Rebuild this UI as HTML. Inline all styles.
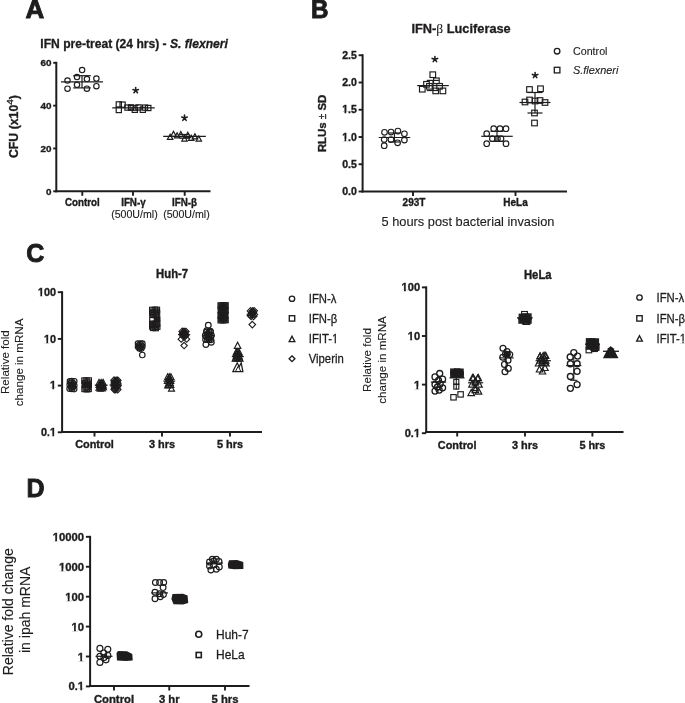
<!DOCTYPE html>
<html><head><meta charset="utf-8"><style>
html,body{margin:0;padding:0;background:#fff;}
svg{display:block;filter:blur(0.45px);}
text{font-family:"Liberation Sans", sans-serif;}
</style></head><body>
<svg width="685" height="703" viewBox="0 0 685 703">
<rect width="685" height="703" fill="#fff"/>
<g stroke="#1e1c1d" fill="none">
<text transform="translate(25.6 18.2) scale(0.985 1.0)" font-size="26.4" font-weight="bold" text-anchor="start" fill="#1e1c1d" stroke="#1e1c1d" stroke-width="0.9">A</text>
<text x="40.3" y="47.5" font-size="12.1" font-weight="bold" fill="#1e1c1d" stroke="#1e1c1d" stroke-width="0.3">IFN pre-treat (24 hrs) - <tspan font-style="italic">S. flexneri</tspan></text>
<line x1="56.30" y1="61.80" x2="56.30" y2="192.30" stroke-width="2.0"/>
<line x1="53.20" y1="191.30" x2="56.30" y2="191.30" stroke-width="1.9"/>
<text transform="translate(51.49999999999999 194.67392) scale(1.0 0.96)" font-size="9.9" font-weight="bold" text-anchor="end" fill="#1e1c1d" stroke="#1e1c1d" stroke-width="0.35">0</text>
<line x1="53.20" y1="148.47" x2="56.30" y2="148.47" stroke-width="1.9"/>
<text transform="translate(51.49999999999999 151.8405866666667) scale(1.0 0.96)" font-size="9.9" font-weight="bold" text-anchor="end" fill="#1e1c1d" stroke="#1e1c1d" stroke-width="0.35">20</text>
<line x1="53.20" y1="105.63" x2="56.30" y2="105.63" stroke-width="1.9"/>
<text transform="translate(51.49999999999999 109.00725333333335) scale(1.0 0.96)" font-size="9.9" font-weight="bold" text-anchor="end" fill="#1e1c1d" stroke="#1e1c1d" stroke-width="0.35">40</text>
<line x1="53.20" y1="62.80" x2="56.30" y2="62.80" stroke-width="1.9"/>
<text transform="translate(51.49999999999999 66.17392000000001) scale(1.0 0.96)" font-size="9.9" font-weight="bold" text-anchor="end" fill="#1e1c1d" stroke="#1e1c1d" stroke-width="0.35">60</text>
<line x1="55.30" y1="191.30" x2="210.50" y2="191.30" stroke-width="2.0"/>
<line x1="82.30" y1="191.30" x2="82.30" y2="195.80" stroke-width="1.9"/>
<line x1="133.00" y1="191.30" x2="133.00" y2="195.80" stroke-width="1.9"/>
<line x1="184.70" y1="191.30" x2="184.70" y2="195.80" stroke-width="1.9"/>
<text transform="translate(82.3 205.6) scale(1.0 1.06)" font-size="9.8" font-weight="bold" text-anchor="middle" fill="#1e1c1d" stroke="#1e1c1d" stroke-width="0.35">Control</text>
<text transform="translate(133.4 205.6) scale(1.0 1.06)" font-size="9.8" font-weight="bold" text-anchor="middle" fill="#1e1c1d" stroke="#1e1c1d" stroke-width="0.35">IFN-γ</text>
<text transform="translate(184.5 205.6) scale(1.0 1.06)" font-size="9.8" font-weight="bold" text-anchor="middle" fill="#1e1c1d" stroke="#1e1c1d" stroke-width="0.35">IFN-β</text>
<text transform="translate(134.4 217.6)" font-size="10.6" text-anchor="middle" fill="#1e1c1d" stroke="#1e1c1d" stroke-width="0.12">(500U/ml)</text>
<text transform="translate(186.4 217.6)" font-size="10.6" text-anchor="middle" fill="#1e1c1d" stroke="#1e1c1d" stroke-width="0.12">(500U/ml)</text>
<text transform="translate(17.6 126.6) rotate(-90)" font-size="12.3" font-weight="bold" text-anchor="middle" fill="#1e1c1d" stroke="#1e1c1d" stroke-width="0.35">CFU (x10<tspan font-size="9.8" font-weight="normal" stroke="#1e1c1d" stroke-width="0.35" dy="-4.6">4</tspan><tspan dy="4.6">)</tspan></text>
<line x1="61.00" y1="81.80" x2="103.00" y2="81.80" stroke-width="1.2"/>
<line x1="82.00" y1="75.70" x2="82.00" y2="87.90" stroke-width="1.2"/>
<line x1="73.20" y1="75.70" x2="90.80" y2="75.70" stroke-width="1.2"/>
<line x1="73.20" y1="87.90" x2="90.80" y2="87.90" stroke-width="1.2"/>
<circle cx="82.10" cy="70.00" r="2.7" stroke-width="1.15"/>
<circle cx="67.50" cy="80.50" r="2.7" stroke-width="1.15"/>
<circle cx="67.50" cy="88.70" r="2.7" stroke-width="1.15"/>
<circle cx="77.00" cy="77.00" r="2.7" stroke-width="1.15"/>
<circle cx="77.00" cy="84.80" r="2.7" stroke-width="1.15"/>
<circle cx="86.90" cy="79.00" r="2.7" stroke-width="1.15"/>
<circle cx="86.90" cy="88.70" r="2.7" stroke-width="1.15"/>
<circle cx="96.40" cy="78.50" r="2.7" stroke-width="1.15"/>
<circle cx="96.40" cy="86.20" r="2.7" stroke-width="1.15"/>
<line x1="112.25" y1="107.90" x2="154.75" y2="107.90" stroke-width="1.2"/>
<line x1="133.50" y1="105.50" x2="133.50" y2="110.20" stroke-width="1.2"/>
<line x1="128.50" y1="105.50" x2="138.50" y2="105.50" stroke-width="1.2"/>
<line x1="128.50" y1="110.20" x2="138.50" y2="110.20" stroke-width="1.2"/>
<rect x="116.20" y="101.80" width="5.2" height="5.2" stroke-width="1.2"/>
<rect x="116.20" y="107.40" width="5.2" height="5.2" stroke-width="1.2"/>
<rect x="120.00" y="102.00" width="5.2" height="5.2" stroke-width="1.2"/>
<rect x="124.90" y="105.00" width="5.2" height="5.2" stroke-width="1.2"/>
<rect x="128.40" y="104.80" width="5.2" height="5.2" stroke-width="1.2"/>
<rect x="132.20" y="107.20" width="5.2" height="5.2" stroke-width="1.2"/>
<rect x="135.90" y="104.80" width="5.2" height="5.2" stroke-width="1.2"/>
<rect x="140.20" y="107.20" width="5.2" height="5.2" stroke-width="1.2"/>
<rect x="145.70" y="105.40" width="5.2" height="5.2" stroke-width="1.2"/>
<rect x="142.40" y="105.00" width="5.2" height="5.2" stroke-width="1.2"/>
<path d="M135.70 90.40L135.70 87.50M135.70 90.40L138.46 89.50M135.70 90.40L137.40 92.75M135.70 90.40L134.00 92.75M135.70 90.40L132.94 89.50" stroke-width="1.55" stroke-linecap="round"/>
<line x1="163.15" y1="136.30" x2="205.85" y2="136.30" stroke-width="1.2"/>
<line x1="184.50" y1="134.50" x2="184.50" y2="138.20" stroke-width="1.2"/>
<line x1="179.50" y1="134.50" x2="189.50" y2="134.50" stroke-width="1.2"/>
<line x1="179.50" y1="138.20" x2="189.50" y2="138.20" stroke-width="1.2"/>
<path d="M170.10 134.24L172.80 139.37L167.40 139.37Z" stroke-width="1.2" stroke-linejoin="miter"/>
<path d="M173.50 131.34L176.20 136.47L170.80 136.47Z" stroke-width="1.2" stroke-linejoin="miter"/>
<path d="M177.10 132.84L179.80 137.97L174.40 137.97Z" stroke-width="1.2" stroke-linejoin="miter"/>
<path d="M180.80 131.64L183.50 136.77L178.10 136.77Z" stroke-width="1.2" stroke-linejoin="miter"/>
<path d="M184.50 135.94L187.20 141.06L181.80 141.06Z" stroke-width="1.2" stroke-linejoin="miter"/>
<path d="M187.80 132.34L190.50 137.47L185.10 137.47Z" stroke-width="1.2" stroke-linejoin="miter"/>
<path d="M191.20 135.24L193.90 140.37L188.50 140.37Z" stroke-width="1.2" stroke-linejoin="miter"/>
<path d="M194.90 133.84L197.60 138.97L192.20 138.97Z" stroke-width="1.2" stroke-linejoin="miter"/>
<path d="M198.80 135.94L201.50 141.06L196.10 141.06Z" stroke-width="1.2" stroke-linejoin="miter"/>
<path d="M184.50 118.00L184.50 115.10M184.50 118.00L187.26 117.10M184.50 118.00L186.20 120.35M184.50 118.00L182.80 120.35M184.50 118.00L181.74 117.10" stroke-width="1.55" stroke-linecap="round"/>
<text transform="translate(311.0 18.0) scale(0.92 1.0)" font-size="26.4" font-weight="bold" text-anchor="start" fill="#1e1c1d" stroke="#1e1c1d" stroke-width="0.9">B</text>
<text x="411.4" y="32.9" font-size="12.8" font-weight="bold" fill="#1e1c1d" stroke="#1e1c1d" stroke-width="0.3">IFN-<tspan font-family="Liberation Serif" font-weight="normal" font-size="13.5" stroke-width="0.1">β</tspan> Luciferase</text>
<line x1="362.60" y1="54.25" x2="362.60" y2="192.50" stroke-width="2.0"/>
<line x1="358.60" y1="191.50" x2="362.60" y2="191.50" stroke-width="1.9"/>
<text transform="translate(356.8 195.2275)" font-size="10.5" font-weight="bold" text-anchor="end" fill="#1e1c1d" stroke="#1e1c1d" stroke-width="0.35">0.0</text>
<line x1="358.60" y1="164.25" x2="362.60" y2="164.25" stroke-width="1.9"/>
<text transform="translate(356.8 167.9775)" font-size="10.5" font-weight="bold" text-anchor="end" fill="#1e1c1d" stroke="#1e1c1d" stroke-width="0.35">0.5</text>
<line x1="358.60" y1="137.00" x2="362.60" y2="137.00" stroke-width="1.9"/>
<text transform="translate(356.8 140.7275)" font-size="10.5" font-weight="bold" text-anchor="end" fill="#1e1c1d" stroke="#1e1c1d" stroke-width="0.35">1.0</text>
<rect x="341.70" y="138.76" width="2.80" height="2.76" fill="#fff" stroke="none"/>
<rect x="346.24" y="138.76" width="1.85" height="2.76" fill="#fff" stroke="none"/>
<line x1="358.60" y1="109.75" x2="362.60" y2="109.75" stroke-width="1.9"/>
<text transform="translate(356.8 113.4775)" font-size="10.5" font-weight="bold" text-anchor="end" fill="#1e1c1d" stroke="#1e1c1d" stroke-width="0.35">1.5</text>
<rect x="341.70" y="111.51" width="2.80" height="2.76" fill="#fff" stroke="none"/>
<rect x="346.24" y="111.51" width="1.85" height="2.76" fill="#fff" stroke="none"/>
<line x1="358.60" y1="82.50" x2="362.60" y2="82.50" stroke-width="1.9"/>
<text transform="translate(356.8 86.2275)" font-size="10.5" font-weight="bold" text-anchor="end" fill="#1e1c1d" stroke="#1e1c1d" stroke-width="0.35">2.0</text>
<line x1="358.60" y1="55.25" x2="362.60" y2="55.25" stroke-width="1.9"/>
<text transform="translate(356.8 58.9775)" font-size="10.5" font-weight="bold" text-anchor="end" fill="#1e1c1d" stroke="#1e1c1d" stroke-width="0.35">2.5</text>
<line x1="361.60" y1="191.50" x2="567.00" y2="191.50" stroke-width="2.0"/>
<line x1="413.00" y1="191.50" x2="413.00" y2="196.00" stroke-width="1.9"/>
<line x1="515.50" y1="191.50" x2="515.50" y2="196.00" stroke-width="1.9"/>
<text transform="translate(414 206) scale(1.0 1.05)" font-size="10" font-weight="bold" text-anchor="middle" fill="#1e1c1d" stroke="#1e1c1d" stroke-width="0.35">293T</text>
<text transform="translate(515.5 206) scale(1.0 1.05)" font-size="10" font-weight="bold" text-anchor="middle" fill="#1e1c1d" stroke="#1e1c1d" stroke-width="0.35">HeLa</text>
<text transform="translate(468 225.6)" font-size="12.8" text-anchor="middle" fill="#1e1c1d" stroke="#1e1c1d" stroke-width="0.12">5 hours post bacterial invasion</text>
<text transform="translate(326.3 123.4) rotate(-90)" font-size="11.4" font-weight="bold" text-anchor="middle" fill="#1e1c1d" stroke="#1e1c1d" stroke-width="0.35">RLUs <tspan font-weight="normal" font-size="10">±</tspan> SD</text>
<circle cx="557.10" cy="51.20" r="2.8" stroke-width="1.3"/>
<rect x="554.30" y="67.30" width="5.6" height="5.6" stroke-width="1.3"/>
<text transform="translate(573 54.7) scale(1.0 1.04)" font-size="10.7" text-anchor="start" fill="#1e1c1d" stroke="#1e1c1d" stroke-width="0.12">Control</text>
<text transform="translate(573 73.5) scale(1.0 1.04)" font-size="10.9" font-style="italic" text-anchor="start" fill="#1e1c1d" stroke="#1e1c1d" stroke-width="0.12">S.flexneri</text>
<line x1="378.75" y1="137.50" x2="410.25" y2="137.50" stroke-width="1.2"/>
<line x1="394.50" y1="133.00" x2="394.50" y2="142.00" stroke-width="1.2"/>
<line x1="388.50" y1="133.00" x2="400.50" y2="133.00" stroke-width="1.2"/>
<line x1="388.50" y1="142.00" x2="400.50" y2="142.00" stroke-width="1.2"/>
<circle cx="384.50" cy="132.30" r="2.8" stroke-width="1.15"/>
<circle cx="391.00" cy="132.00" r="2.8" stroke-width="1.15"/>
<circle cx="397.90" cy="131.00" r="2.8" stroke-width="1.15"/>
<circle cx="404.40" cy="133.80" r="2.8" stroke-width="1.15"/>
<circle cx="384.20" cy="139.50" r="2.8" stroke-width="1.15"/>
<circle cx="391.00" cy="139.50" r="2.8" stroke-width="1.15"/>
<circle cx="404.40" cy="140.10" r="2.8" stroke-width="1.15"/>
<circle cx="397.60" cy="142.80" r="2.8" stroke-width="1.15"/>
<circle cx="384.20" cy="145.70" r="2.8" stroke-width="1.15"/>
<line x1="417.20" y1="85.60" x2="448.80" y2="85.60" stroke-width="1.2"/>
<line x1="433.00" y1="80.40" x2="433.00" y2="90.50" stroke-width="1.2"/>
<line x1="426.75" y1="80.40" x2="439.25" y2="80.40" stroke-width="1.2"/>
<line x1="426.75" y1="90.50" x2="439.25" y2="90.50" stroke-width="1.2"/>
<rect x="430.00" y="71.90" width="5.6" height="5.6" stroke-width="1.15"/>
<rect x="433.60" y="78.00" width="5.6" height="5.6" stroke-width="1.15"/>
<rect x="423.70" y="81.50" width="5.6" height="5.6" stroke-width="1.15"/>
<rect x="419.50" y="86.40" width="5.6" height="5.6" stroke-width="1.15"/>
<rect x="426.60" y="83.50" width="5.6" height="5.6" stroke-width="1.15"/>
<rect x="432.90" y="88.10" width="5.6" height="5.6" stroke-width="1.15"/>
<rect x="440.10" y="88.10" width="5.6" height="5.6" stroke-width="1.15"/>
<rect x="436.80" y="83.50" width="5.6" height="5.6" stroke-width="1.15"/>
<path d="M434.90 59.30L434.90 56.40M434.90 59.30L437.66 58.40M434.90 59.30L436.60 61.65M434.90 59.30L433.20 61.65M434.90 59.30L432.14 58.40" stroke-width="1.55" stroke-linecap="round"/>
<line x1="481.25" y1="136.30" x2="512.75" y2="136.30" stroke-width="1.2"/>
<line x1="497.00" y1="131.30" x2="497.00" y2="141.30" stroke-width="1.2"/>
<line x1="490.50" y1="131.30" x2="503.50" y2="131.30" stroke-width="1.2"/>
<line x1="490.50" y1="141.30" x2="503.50" y2="141.30" stroke-width="1.2"/>
<circle cx="486.70" cy="133.70" r="2.8" stroke-width="1.15"/>
<circle cx="493.70" cy="128.70" r="2.8" stroke-width="1.15"/>
<circle cx="500.00" cy="128.70" r="2.8" stroke-width="1.15"/>
<circle cx="506.00" cy="128.70" r="2.8" stroke-width="1.15"/>
<circle cx="492.40" cy="138.70" r="2.8" stroke-width="1.15"/>
<circle cx="497.40" cy="138.70" r="2.8" stroke-width="1.15"/>
<circle cx="501.00" cy="138.70" r="2.8" stroke-width="1.15"/>
<circle cx="486.70" cy="143.70" r="2.8" stroke-width="1.15"/>
<circle cx="506.00" cy="143.70" r="2.8" stroke-width="1.15"/>
<line x1="519.50" y1="102.50" x2="550.50" y2="102.50" stroke-width="1.2"/>
<line x1="535.00" y1="92.50" x2="535.00" y2="113.00" stroke-width="1.2"/>
<line x1="527.50" y1="92.50" x2="542.50" y2="92.50" stroke-width="1.2"/>
<line x1="527.50" y1="113.00" x2="542.50" y2="113.00" stroke-width="1.2"/>
<rect x="526.70" y="86.70" width="5.6" height="5.6" stroke-width="1.15"/>
<rect x="537.70" y="85.95" width="5.6" height="5.6" stroke-width="1.15"/>
<rect x="522.20" y="99.20" width="5.6" height="5.6" stroke-width="1.15"/>
<rect x="526.70" y="97.20" width="5.6" height="5.6" stroke-width="1.15"/>
<rect x="532.20" y="98.20" width="5.6" height="5.6" stroke-width="1.15"/>
<rect x="537.20" y="97.70" width="5.6" height="5.6" stroke-width="1.15"/>
<rect x="542.20" y="99.70" width="5.6" height="5.6" stroke-width="1.15"/>
<rect x="531.70" y="110.20" width="5.6" height="5.6" stroke-width="1.15"/>
<rect x="531.70" y="120.20" width="5.6" height="5.6" stroke-width="1.15"/>
<path d="M535.10 75.30L535.10 72.40M535.10 75.30L537.86 74.40M535.10 75.30L536.80 77.65M535.10 75.30L533.40 77.65M535.10 75.30L532.34 74.40" stroke-width="1.55" stroke-linecap="round"/>
<text transform="translate(26.2 262.2) scale(0.95 1.0)" font-size="26.4" font-weight="bold" text-anchor="start" fill="#1e1c1d" stroke="#1e1c1d" stroke-width="0.9">C</text>
<line x1="62.10" y1="291.20" x2="62.10" y2="433.00" stroke-width="2.0"/>
<line x1="57.80" y1="292.20" x2="62.10" y2="292.20" stroke-width="1.9"/>
<text transform="translate(56.00000000000001 296.03400000000005)" font-size="10.8" font-weight="bold" text-anchor="end" fill="#1e1c1d" stroke="#1e1c1d" stroke-width="0.35">100</text>
<rect x="37.48" y="294.03" width="2.87" height="2.80" fill="#fff" stroke="none"/>
<rect x="42.13" y="294.03" width="1.90" height="2.80" fill="#fff" stroke="none"/>
<line x1="57.80" y1="338.90" x2="62.10" y2="338.90" stroke-width="1.9"/>
<text transform="translate(56.00000000000001 342.73400000000004)" font-size="10.8" font-weight="bold" text-anchor="end" fill="#1e1c1d" stroke="#1e1c1d" stroke-width="0.35">10</text>
<rect x="43.49" y="340.73" width="2.87" height="2.80" fill="#fff" stroke="none"/>
<rect x="48.13" y="340.73" width="1.90" height="2.80" fill="#fff" stroke="none"/>
<line x1="57.80" y1="385.60" x2="62.10" y2="385.60" stroke-width="1.9"/>
<text transform="translate(56.00000000000001 389.434)" font-size="10.8" font-weight="bold" text-anchor="end" fill="#1e1c1d" stroke="#1e1c1d" stroke-width="0.35">1</text>
<rect x="49.49" y="387.43" width="2.87" height="2.80" fill="#fff" stroke="none"/>
<rect x="54.14" y="387.43" width="1.90" height="2.80" fill="#fff" stroke="none"/>
<line x1="57.80" y1="432.30" x2="62.10" y2="432.30" stroke-width="1.9"/>
<text transform="translate(56.00000000000001 436.134)" font-size="10.8" font-weight="bold" text-anchor="end" fill="#1e1c1d" stroke="#1e1c1d" stroke-width="0.35">0.1</text>
<rect x="49.49" y="434.13" width="2.87" height="2.80" fill="#fff" stroke="none"/>
<rect x="54.14" y="434.13" width="1.90" height="2.80" fill="#fff" stroke="none"/>
<line x1="61.10" y1="432.00" x2="262.00" y2="432.00" stroke-width="2.0"/>
<line x1="94.50" y1="432.00" x2="94.50" y2="436.50" stroke-width="1.9"/>
<line x1="162.00" y1="432.00" x2="162.00" y2="436.50" stroke-width="1.9"/>
<line x1="230.00" y1="432.00" x2="230.00" y2="436.50" stroke-width="1.9"/>
<text transform="translate(94.5 448) scale(1.0 1.05)" font-size="10.9" font-weight="bold" text-anchor="middle" fill="#1e1c1d" stroke="#1e1c1d" stroke-width="0.35">Control</text>
<text transform="translate(162 448) scale(1.0 1.05)" font-size="10.9" font-weight="bold" text-anchor="middle" fill="#1e1c1d" stroke="#1e1c1d" stroke-width="0.35">3 hrs</text>
<text transform="translate(230 448) scale(1.0 1.05)" font-size="10.9" font-weight="bold" text-anchor="middle" fill="#1e1c1d" stroke="#1e1c1d" stroke-width="0.35">5 hrs</text>
<text transform="translate(172.1 278) scale(1.0 1.05)" font-size="11.3" font-weight="bold" text-anchor="middle" fill="#1e1c1d" stroke="#1e1c1d" stroke-width="0.35">Huh-7</text>
<text transform="translate(8.5 362.1) rotate(-90)" font-size="11.6" text-anchor="middle" fill="#1e1c1d" stroke="#1e1c1d" stroke-width="0.12">Relative fold</text>
<text transform="translate(22.7 362.4) rotate(-90)" font-size="11.6" text-anchor="middle" fill="#1e1c1d" stroke="#1e1c1d" stroke-width="0.12">change in mRNA</text>
<circle cx="292.00" cy="298.75" r="2.7" stroke-width="1.35"/>
<text transform="translate(308.75 302.95) scale(1.0 1.14)" font-size="11.3" text-anchor="start" fill="#1e1c1d" stroke="#1e1c1d" stroke-width="0.25">IFN-λ</text>
<rect x="289.30" y="315.70" width="5.4" height="5.4" stroke-width="1.35"/>
<text transform="translate(308.75 322.59999999999997) scale(1.0 1.14)" font-size="11.3" text-anchor="start" fill="#1e1c1d" stroke="#1e1c1d" stroke-width="0.25">IFN-β</text>
<path d="M292.00 336.19L294.85 341.61L289.15 341.61Z" stroke-width="1.35" stroke-linejoin="miter"/>
<text transform="translate(308.75 343.09999999999997) scale(1.0 1.14)" font-size="11.3" text-anchor="start" fill="#1e1c1d" stroke="#1e1c1d" stroke-width="0.25">IFIT-1</text>
<rect x="332.31" y="341.57" width="2.35" height="2.33" fill="#fff" stroke="none"/>
<rect x="335.95" y="341.57" width="2.12" height="2.33" fill="#fff" stroke="none"/>
<path d="M292.00 355.85L294.90 358.75L292.00 361.65L289.10 358.75Z" stroke-width="1.35"/>
<text transform="translate(308.75 362.95) scale(1.0 1.14)" font-size="11.3" text-anchor="start" fill="#1e1c1d" stroke="#1e1c1d" stroke-width="0.25">Viperin</text>
<circle cx="69.89" cy="381.39" r="2.7" stroke-width="1.15"/>
<circle cx="71.64" cy="381.07" r="2.7" stroke-width="1.15"/>
<circle cx="74.32" cy="381.24" r="2.7" stroke-width="1.15"/>
<circle cx="70.88" cy="382.95" r="2.7" stroke-width="1.15"/>
<circle cx="73.21" cy="383.16" r="2.7" stroke-width="1.15"/>
<circle cx="69.63" cy="384.86" r="2.7" stroke-width="1.15"/>
<circle cx="71.90" cy="385.03" r="2.7" stroke-width="1.15"/>
<circle cx="74.32" cy="385.45" r="2.7" stroke-width="1.15"/>
<circle cx="71.08" cy="387.14" r="2.7" stroke-width="1.15"/>
<circle cx="73.10" cy="386.95" r="2.7" stroke-width="1.15"/>
<circle cx="69.58" cy="388.79" r="2.7" stroke-width="1.15"/>
<circle cx="71.93" cy="389.00" r="2.7" stroke-width="1.15"/>
<circle cx="74.24" cy="389.12" r="2.7" stroke-width="1.15"/>
<rect x="81.78" y="377.91" width="5.4" height="5.4" stroke-width="1.15"/>
<rect x="83.81" y="377.95" width="5.4" height="5.4" stroke-width="1.15"/>
<rect x="86.02" y="377.88" width="5.4" height="5.4" stroke-width="1.15"/>
<rect x="82.50" y="380.27" width="5.4" height="5.4" stroke-width="1.15"/>
<rect x="84.79" y="379.85" width="5.4" height="5.4" stroke-width="1.15"/>
<rect x="82.12" y="382.18" width="5.4" height="5.4" stroke-width="1.15"/>
<rect x="84.14" y="382.18" width="5.4" height="5.4" stroke-width="1.15"/>
<rect x="86.02" y="381.96" width="5.4" height="5.4" stroke-width="1.15"/>
<rect x="82.93" y="384.62" width="5.4" height="5.4" stroke-width="1.15"/>
<rect x="84.98" y="384.53" width="5.4" height="5.4" stroke-width="1.15"/>
<rect x="81.89" y="386.22" width="5.4" height="5.4" stroke-width="1.15"/>
<rect x="84.08" y="386.53" width="5.4" height="5.4" stroke-width="1.15"/>
<rect x="85.89" y="386.20" width="5.4" height="5.4" stroke-width="1.15"/>
<path d="M98.98 379.38L101.98 385.08L95.98 385.08Z" stroke-width="1.15" stroke-linejoin="miter"/>
<path d="M101.13 379.38L104.13 385.08L98.13 385.08Z" stroke-width="1.15" stroke-linejoin="miter"/>
<path d="M103.12 379.38L106.12 385.08L100.12 385.08Z" stroke-width="1.15" stroke-linejoin="miter"/>
<path d="M100.38 380.82L103.38 386.52L97.38 386.52Z" stroke-width="1.15" stroke-linejoin="miter"/>
<path d="M102.50 380.41L105.50 386.11L99.50 386.11Z" stroke-width="1.15" stroke-linejoin="miter"/>
<path d="M99.00 381.68L102.00 387.38L96.00 387.38Z" stroke-width="1.15" stroke-linejoin="miter"/>
<path d="M100.97 381.56L103.97 387.26L97.97 387.26Z" stroke-width="1.15" stroke-linejoin="miter"/>
<path d="M103.23 382.13L106.23 387.83L100.23 387.83Z" stroke-width="1.15" stroke-linejoin="miter"/>
<path d="M100.32 383.28L103.32 388.98L97.32 388.98Z" stroke-width="1.15" stroke-linejoin="miter"/>
<path d="M102.52 382.85L105.52 388.55L99.52 388.55Z" stroke-width="1.15" stroke-linejoin="miter"/>
<path d="M98.98 384.38L101.98 390.08L95.98 390.08Z" stroke-width="1.15" stroke-linejoin="miter"/>
<path d="M101.36 384.54L104.36 390.24L98.36 390.24Z" stroke-width="1.15" stroke-linejoin="miter"/>
<path d="M103.42 384.01L106.42 389.71L100.42 389.71Z" stroke-width="1.15" stroke-linejoin="miter"/>
<path d="M100.16 385.52L103.16 391.23L97.16 391.23Z" stroke-width="1.15" stroke-linejoin="miter"/>
<path d="M102.32 385.30L105.32 391.00L99.32 391.00Z" stroke-width="1.15" stroke-linejoin="miter"/>
<line x1="94.80" y1="385.20" x2="107.60" y2="385.20" stroke-width="1.2"/>
<path d="M114.06 376.84L117.36 380.14L114.06 383.44L110.76 380.14Z" stroke-width="1.15"/>
<path d="M116.06 376.98L119.36 380.28L116.06 383.58L112.76 380.28Z" stroke-width="1.15"/>
<path d="M117.72 376.97L121.02 380.27L117.72 383.57L114.42 380.27Z" stroke-width="1.15"/>
<path d="M114.58 378.24L117.88 381.54L114.58 384.84L111.28 381.54Z" stroke-width="1.15"/>
<path d="M117.10 378.37L120.40 381.67L117.10 384.97L113.80 381.67Z" stroke-width="1.15"/>
<path d="M114.26 379.59L117.56 382.89L114.26 386.19L110.96 382.89Z" stroke-width="1.15"/>
<path d="M115.83 379.68L119.13 382.98L115.83 386.28L112.53 382.98Z" stroke-width="1.15"/>
<path d="M117.72 379.91L121.02 383.21L117.72 386.51L114.42 383.21Z" stroke-width="1.15"/>
<path d="M114.57 381.25L117.87 384.55L114.57 387.85L111.27 384.55Z" stroke-width="1.15"/>
<path d="M116.63 381.74L119.93 385.04L116.63 388.34L113.33 385.04Z" stroke-width="1.15"/>
<path d="M114.16 382.80L117.46 386.10L114.16 389.40L110.86 386.10Z" stroke-width="1.15"/>
<path d="M116.06 382.79L119.36 386.09L116.06 389.39L112.76 386.09Z" stroke-width="1.15"/>
<path d="M117.72 382.78L121.02 386.08L117.72 389.38L114.42 386.08Z" stroke-width="1.15"/>
<path d="M114.56 384.89L117.86 388.19L114.56 391.49L111.26 388.19Z" stroke-width="1.15"/>
<path d="M116.58 384.43L119.88 387.73L116.58 391.03L113.28 387.73Z" stroke-width="1.15"/>
<path d="M114.31 386.22L117.61 389.52L114.31 392.82L111.01 389.52Z" stroke-width="1.15"/>
<path d="M115.70 386.22L119.00 389.52L115.70 392.82L112.40 389.52Z" stroke-width="1.15"/>
<path d="M117.72 386.22L121.02 389.52L117.72 392.82L114.42 389.52Z" stroke-width="1.15"/>
<line x1="109.60" y1="385.00" x2="122.00" y2="385.00" stroke-width="1.2"/>
<circle cx="137.97" cy="343.62" r="2.7" stroke-width="1.15"/>
<circle cx="140.50" cy="343.57" r="2.7" stroke-width="1.15"/>
<circle cx="142.42" cy="343.64" r="2.7" stroke-width="1.15"/>
<circle cx="138.87" cy="345.27" r="2.7" stroke-width="1.15"/>
<circle cx="141.40" cy="345.46" r="2.7" stroke-width="1.15"/>
<circle cx="137.97" cy="346.80" r="2.7" stroke-width="1.15"/>
<circle cx="139.91" cy="347.16" r="2.7" stroke-width="1.15"/>
<circle cx="142.42" cy="346.62" r="2.7" stroke-width="1.15"/>
<circle cx="139.43" cy="348.62" r="2.7" stroke-width="1.15"/>
<circle cx="141.42" cy="348.62" r="2.7" stroke-width="1.15"/>
<circle cx="142.30" cy="355.00" r="2.75" stroke-width="1.15"/>
<rect x="149.58" y="307.29" width="5.4" height="5.4" stroke-width="1.15"/>
<rect x="152.17" y="307.18" width="5.4" height="5.4" stroke-width="1.15"/>
<rect x="154.18" y="307.18" width="5.4" height="5.4" stroke-width="1.15"/>
<rect x="150.65" y="309.08" width="5.4" height="5.4" stroke-width="1.15"/>
<rect x="153.42" y="308.93" width="5.4" height="5.4" stroke-width="1.15"/>
<rect x="149.62" y="310.65" width="5.4" height="5.4" stroke-width="1.15"/>
<rect x="151.80" y="310.50" width="5.4" height="5.4" stroke-width="1.15"/>
<rect x="154.29" y="310.83" width="5.4" height="5.4" stroke-width="1.15"/>
<rect x="150.50" y="312.23" width="5.4" height="5.4" stroke-width="1.15"/>
<rect x="152.99" y="312.23" width="5.4" height="5.4" stroke-width="1.15"/>
<rect x="149.58" y="321.10" width="5.4" height="5.4" stroke-width="1.15"/>
<rect x="152.18" y="321.22" width="5.4" height="5.4" stroke-width="1.15"/>
<rect x="154.31" y="320.97" width="5.4" height="5.4" stroke-width="1.15"/>
<rect x="150.57" y="322.23" width="5.4" height="5.4" stroke-width="1.15"/>
<rect x="153.45" y="322.17" width="5.4" height="5.4" stroke-width="1.15"/>
<rect x="149.60" y="323.67" width="5.4" height="5.4" stroke-width="1.15"/>
<rect x="151.91" y="323.83" width="5.4" height="5.4" stroke-width="1.15"/>
<rect x="154.53" y="323.95" width="5.4" height="5.4" stroke-width="1.15"/>
<rect x="150.47" y="325.17" width="5.4" height="5.4" stroke-width="1.15"/>
<rect x="153.04" y="325.33" width="5.4" height="5.4" stroke-width="1.15"/>
<rect x="154.30" y="316.50" width="6.20" height="6.00" rx="0.5" fill="#1e1c1d" stroke="none"/>
<rect x="149.70" y="317.10" width="4.6" height="4.6" stroke-width="1.2"/>
<path d="M167.70 373.77L170.70 379.48L164.70 379.48Z" stroke-width="1.15" stroke-linejoin="miter"/>
<path d="M169.32 373.77L172.32 379.48L166.32 379.48Z" stroke-width="1.15" stroke-linejoin="miter"/>
<path d="M170.93 373.77L173.93 379.48L167.93 379.48Z" stroke-width="1.15" stroke-linejoin="miter"/>
<path d="M168.53 375.99L171.53 381.69L165.53 381.69Z" stroke-width="1.15" stroke-linejoin="miter"/>
<path d="M170.29 376.21L173.29 381.91L167.29 381.91Z" stroke-width="1.15" stroke-linejoin="miter"/>
<path d="M167.38 377.84L170.38 383.54L164.38 383.54Z" stroke-width="1.15" stroke-linejoin="miter"/>
<path d="M169.30 377.80L172.30 383.50L166.30 383.50Z" stroke-width="1.15" stroke-linejoin="miter"/>
<path d="M170.76 377.76L173.76 383.46L167.76 383.46Z" stroke-width="1.15" stroke-linejoin="miter"/>
<path d="M168.51 380.30L171.51 386.00L165.51 386.00Z" stroke-width="1.15" stroke-linejoin="miter"/>
<path d="M170.25 379.84L173.25 385.54L167.25 385.54Z" stroke-width="1.15" stroke-linejoin="miter"/>
<path d="M167.67 382.12L170.67 387.82L164.67 387.82Z" stroke-width="1.15" stroke-linejoin="miter"/>
<path d="M168.96 382.09L171.96 387.79L165.96 387.79Z" stroke-width="1.15" stroke-linejoin="miter"/>
<path d="M170.87 381.83L173.87 387.53L167.87 387.53Z" stroke-width="1.15" stroke-linejoin="miter"/>
<path d="M171.50 385.45L174.50 391.15L168.50 391.15Z" stroke-width="1.15" stroke-linejoin="miter"/>
<line x1="163.30" y1="381.10" x2="175.20" y2="381.10" stroke-width="1.2"/>
<path d="M182.28 328.07L185.58 331.38L182.28 334.68L178.97 331.38Z" stroke-width="1.15"/>
<path d="M184.04 328.07L187.34 331.38L184.04 334.68L180.74 331.38Z" stroke-width="1.15"/>
<path d="M185.86 328.19L189.16 331.49L185.86 334.79L182.56 331.49Z" stroke-width="1.15"/>
<path d="M183.02 329.75L186.32 333.05L183.02 336.35L179.72 333.05Z" stroke-width="1.15"/>
<path d="M184.67 329.52L187.97 332.82L184.67 336.12L181.37 332.82Z" stroke-width="1.15"/>
<path d="M182.28 330.99L185.58 334.29L182.28 337.59L178.97 334.29Z" stroke-width="1.15"/>
<path d="M184.27 331.11L187.57 334.41L184.27 337.71L180.97 334.41Z" stroke-width="1.15"/>
<path d="M185.93 331.56L189.23 334.86L185.93 338.16L182.62 334.86Z" stroke-width="1.15"/>
<path d="M183.01 332.82L186.31 336.12L183.01 339.43L179.71 336.12Z" stroke-width="1.15"/>
<path d="M185.23 332.82L188.53 336.12L185.23 339.43L181.93 336.12Z" stroke-width="1.15"/>
<line x1="178.00" y1="334.60" x2="190.20" y2="334.60" stroke-width="1.2"/>
<path d="M181.20 336.10L184.30 339.20L181.20 342.30L178.10 339.20Z" stroke-width="1.15"/>
<path d="M186.60 336.10L189.70 339.20L186.60 342.30L183.50 339.20Z" stroke-width="1.15"/>
<path d="M184.10 342.40L187.30 345.60L184.10 348.80L180.90 345.60Z" stroke-width="1.15"/>
<circle cx="206.29" cy="331.99" r="2.7" stroke-width="1.15"/>
<circle cx="208.82" cy="331.77" r="2.7" stroke-width="1.15"/>
<circle cx="210.72" cy="331.92" r="2.7" stroke-width="1.15"/>
<circle cx="207.50" cy="334.15" r="2.7" stroke-width="1.15"/>
<circle cx="209.28" cy="334.34" r="2.7" stroke-width="1.15"/>
<circle cx="206.45" cy="336.90" r="2.7" stroke-width="1.15"/>
<circle cx="208.50" cy="336.95" r="2.7" stroke-width="1.15"/>
<circle cx="210.72" cy="337.39" r="2.7" stroke-width="1.15"/>
<circle cx="207.32" cy="339.73" r="2.7" stroke-width="1.15"/>
<circle cx="209.31" cy="339.73" r="2.7" stroke-width="1.15"/>
<circle cx="208.30" cy="325.30" r="2.85" stroke-width="1.2"/>
<circle cx="206.80" cy="330.80" r="2.85" stroke-width="1.2"/>
<circle cx="210.30" cy="331.20" r="2.85" stroke-width="1.2"/>
<circle cx="205.30" cy="335.50" r="2.85" stroke-width="1.2"/>
<circle cx="211.40" cy="335.50" r="2.85" stroke-width="1.2"/>
<circle cx="208.40" cy="338.20" r="2.85" stroke-width="1.2"/>
<circle cx="205.60" cy="339.60" r="2.85" stroke-width="1.2"/>
<circle cx="210.90" cy="339.80" r="2.85" stroke-width="1.2"/>
<circle cx="205.90" cy="344.60" r="2.85" stroke-width="1.2"/>
<circle cx="211.30" cy="342.20" r="2.85" stroke-width="1.2"/>
<line x1="202.00" y1="335.60" x2="214.80" y2="335.60" stroke-width="1.2"/>
<rect x="218.20" y="302.90" width="9.80" height="19.80" fill="#333" stroke="none"/>
<rect x="217.98" y="302.79" width="5.4" height="5.4" stroke-width="1.15"/>
<rect x="220.28" y="302.68" width="5.4" height="5.4" stroke-width="1.15"/>
<rect x="222.82" y="302.68" width="5.4" height="5.4" stroke-width="1.15"/>
<rect x="219.17" y="305.12" width="5.4" height="5.4" stroke-width="1.15"/>
<rect x="221.45" y="304.98" width="5.4" height="5.4" stroke-width="1.15"/>
<rect x="218.11" y="307.50" width="5.4" height="5.4" stroke-width="1.15"/>
<rect x="220.52" y="307.83" width="5.4" height="5.4" stroke-width="1.15"/>
<rect x="222.83" y="307.94" width="5.4" height="5.4" stroke-width="1.15"/>
<rect x="219.00" y="309.92" width="5.4" height="5.4" stroke-width="1.15"/>
<rect x="221.78" y="310.15" width="5.4" height="5.4" stroke-width="1.15"/>
<rect x="217.98" y="312.70" width="5.4" height="5.4" stroke-width="1.15"/>
<rect x="220.66" y="312.81" width="5.4" height="5.4" stroke-width="1.15"/>
<rect x="222.63" y="312.43" width="5.4" height="5.4" stroke-width="1.15"/>
<rect x="218.84" y="315.38" width="5.4" height="5.4" stroke-width="1.15"/>
<rect x="221.42" y="315.21" width="5.4" height="5.4" stroke-width="1.15"/>
<rect x="218.00" y="317.53" width="5.4" height="5.4" stroke-width="1.15"/>
<rect x="220.42" y="317.53" width="5.4" height="5.4" stroke-width="1.15"/>
<rect x="222.83" y="317.39" width="5.4" height="5.4" stroke-width="1.15"/>
<path d="M237.60 342.26L240.80 348.34L234.40 348.34Z" stroke-width="1.2" stroke-linejoin="miter"/>
<path d="M236.20 349.27L239.20 354.97L233.20 354.97Z" stroke-width="1.15" stroke-linejoin="miter"/>
<path d="M237.76 349.08L240.76 354.78L234.76 354.78Z" stroke-width="1.15" stroke-linejoin="miter"/>
<path d="M239.35 349.42L242.35 355.12L236.35 355.12Z" stroke-width="1.15" stroke-linejoin="miter"/>
<path d="M236.77 350.98L239.77 356.68L233.77 356.68Z" stroke-width="1.15" stroke-linejoin="miter"/>
<path d="M238.42 351.06L241.42 356.76L235.42 356.76Z" stroke-width="1.15" stroke-linejoin="miter"/>
<path d="M236.07 353.21L239.07 358.91L233.07 358.91Z" stroke-width="1.15" stroke-linejoin="miter"/>
<path d="M237.48 353.25L240.48 358.95L234.48 358.95Z" stroke-width="1.15" stroke-linejoin="miter"/>
<path d="M239.29 353.42L242.29 359.12L236.29 359.12Z" stroke-width="1.15" stroke-linejoin="miter"/>
<path d="M236.70 355.22L239.70 360.92L233.70 360.92Z" stroke-width="1.15" stroke-linejoin="miter"/>
<path d="M238.38 355.52L241.38 361.23L235.38 361.23Z" stroke-width="1.15" stroke-linejoin="miter"/>
<path d="M236.20 349.84L239.00 355.16L233.40 355.16Z" stroke-width="1.2" stroke-linejoin="miter"/>
<path d="M239.00 350.84L241.80 356.16L236.20 356.16Z" stroke-width="1.2" stroke-linejoin="miter"/>
<path d="M235.00 355.84L237.80 361.16L232.20 361.16Z" stroke-width="1.2" stroke-linejoin="miter"/>
<path d="M240.20 355.84L243.00 361.16L237.40 361.16Z" stroke-width="1.2" stroke-linejoin="miter"/>
<line x1="231.80" y1="356.60" x2="243.80" y2="356.60" stroke-width="1.2"/>
<path d="M232.9 371.6L237.2 362.8L239.2 366.8L241.2 362.9L242.9 371.6Z" stroke-width="1.25"/>
<path d="M235.4 371.6L238.2 366.2L240.9 371.6" stroke-width="1.0"/>
<path d="M250.56 307.61L253.86 310.91L250.56 314.21L247.26 310.91Z" stroke-width="1.15"/>
<path d="M252.49 307.76L255.79 311.06L252.49 314.36L249.19 311.06Z" stroke-width="1.15"/>
<path d="M254.16 307.57L257.46 310.87L254.16 314.17L250.86 310.87Z" stroke-width="1.15"/>
<path d="M251.57 309.62L254.87 312.92L251.57 316.22L248.27 312.92Z" stroke-width="1.15"/>
<path d="M253.36 309.13L256.66 312.43L253.36 315.73L250.06 312.43Z" stroke-width="1.15"/>
<path d="M250.28 311.59L253.58 314.89L250.28 318.19L246.97 314.89Z" stroke-width="1.15"/>
<path d="M252.02 311.12L255.32 314.42L252.02 317.72L248.72 314.42Z" stroke-width="1.15"/>
<path d="M254.32 311.21L257.62 314.51L254.32 317.81L251.02 314.51Z" stroke-width="1.15"/>
<path d="M251.08 313.00L254.38 316.30L251.08 319.60L247.78 316.30Z" stroke-width="1.15"/>
<path d="M253.60 313.01L256.90 316.31L253.60 319.61L250.30 316.31Z" stroke-width="1.15"/>
<path d="M252.30 321.30L255.60 324.60L252.30 327.90L249.00 324.60Z" stroke-width="1.15"/>
<line x1="426.20" y1="286.40" x2="426.20" y2="433.00" stroke-width="2.0"/>
<line x1="421.90" y1="287.40" x2="426.20" y2="287.40" stroke-width="1.9"/>
<text transform="translate(420.09999999999997 291.3405)" font-size="11.1" font-weight="bold" text-anchor="end" fill="#1e1c1d" stroke="#1e1c1d" stroke-width="0.35">100</text>
<rect x="401.08" y="289.30" width="2.94" height="2.84" fill="#fff" stroke="none"/>
<rect x="405.84" y="289.30" width="1.96" height="2.84" fill="#fff" stroke="none"/>
<line x1="421.90" y1="336.00" x2="426.20" y2="336.00" stroke-width="1.9"/>
<text transform="translate(420.09999999999997 339.9405)" font-size="11.1" font-weight="bold" text-anchor="end" fill="#1e1c1d" stroke="#1e1c1d" stroke-width="0.35">10</text>
<rect x="407.25" y="337.90" width="2.94" height="2.84" fill="#fff" stroke="none"/>
<rect x="412.01" y="337.90" width="1.96" height="2.84" fill="#fff" stroke="none"/>
<line x1="421.90" y1="384.60" x2="426.20" y2="384.60" stroke-width="1.9"/>
<text transform="translate(420.09999999999997 388.5405)" font-size="11.1" font-weight="bold" text-anchor="end" fill="#1e1c1d" stroke="#1e1c1d" stroke-width="0.35">1</text>
<rect x="413.43" y="386.50" width="2.94" height="2.84" fill="#fff" stroke="none"/>
<rect x="418.18" y="386.50" width="1.96" height="2.84" fill="#fff" stroke="none"/>
<line x1="421.90" y1="433.20" x2="426.20" y2="433.20" stroke-width="1.9"/>
<text transform="translate(420.09999999999997 437.14050000000003)" font-size="11.1" font-weight="bold" text-anchor="end" fill="#1e1c1d" stroke="#1e1c1d" stroke-width="0.35">0.1</text>
<rect x="413.43" y="435.10" width="2.94" height="2.84" fill="#fff" stroke="none"/>
<rect x="418.18" y="435.10" width="1.96" height="2.84" fill="#fff" stroke="none"/>
<line x1="425.20" y1="432.00" x2="623.50" y2="432.00" stroke-width="2.0"/>
<line x1="457.20" y1="432.00" x2="457.20" y2="436.50" stroke-width="1.9"/>
<line x1="525.00" y1="432.00" x2="525.00" y2="436.50" stroke-width="1.9"/>
<line x1="592.40" y1="432.00" x2="592.40" y2="436.50" stroke-width="1.9"/>
<text transform="translate(457.2 448.5) scale(1.0 1.05)" font-size="10.9" font-weight="bold" text-anchor="middle" fill="#1e1c1d" stroke="#1e1c1d" stroke-width="0.35">Control</text>
<text transform="translate(525 448.5) scale(1.0 1.05)" font-size="10.9" font-weight="bold" text-anchor="middle" fill="#1e1c1d" stroke="#1e1c1d" stroke-width="0.35">3 hrs</text>
<text transform="translate(592.4 448.5) scale(1.0 1.05)" font-size="10.9" font-weight="bold" text-anchor="middle" fill="#1e1c1d" stroke="#1e1c1d" stroke-width="0.35">5 hrs</text>
<text transform="translate(537.75 278.75) scale(1.0 1.05)" font-size="11.3" font-weight="bold" text-anchor="middle" fill="#1e1c1d" stroke="#1e1c1d" stroke-width="0.35">HeLa</text>
<text transform="translate(371 360) rotate(-90)" font-size="11.6" text-anchor="middle" fill="#1e1c1d" stroke="#1e1c1d" stroke-width="0.12">Relative fold</text>
<text transform="translate(385.5 360) rotate(-90)" font-size="11.6" text-anchor="middle" fill="#1e1c1d" stroke="#1e1c1d" stroke-width="0.12">change in mRNA</text>
<circle cx="639.50" cy="297.50" r="2.7" stroke-width="1.35"/>
<text transform="translate(656.5 301.7) scale(1.0 1.14)" font-size="11.3" text-anchor="start" fill="#1e1c1d" stroke="#1e1c1d" stroke-width="0.25">IFN-λ</text>
<rect x="636.80" y="315.70" width="5.4" height="5.4" stroke-width="1.35"/>
<text transform="translate(656.5 322.59999999999997) scale(1.0 1.14)" font-size="11.3" text-anchor="start" fill="#1e1c1d" stroke="#1e1c1d" stroke-width="0.25">IFN-β</text>
<path d="M639.50 335.69L642.35 341.11L636.65 341.11Z" stroke-width="1.35" stroke-linejoin="miter"/>
<text transform="translate(656.5 342.59999999999997) scale(1.0 1.14)" font-size="11.3" text-anchor="start" fill="#1e1c1d" stroke="#1e1c1d" stroke-width="0.25">IFIT-1</text>
<rect x="680.06" y="341.07" width="2.35" height="2.33" fill="#fff" stroke="none"/>
<rect x="683.70" y="341.07" width="2.12" height="2.33" fill="#fff" stroke="none"/>
<circle cx="439.70" cy="373.50" r="3.0" stroke-width="1.3"/>
<circle cx="435.00" cy="376.90" r="3.0" stroke-width="1.3"/>
<circle cx="442.60" cy="379.20" r="3.0" stroke-width="1.3"/>
<circle cx="435.00" cy="384.50" r="3.0" stroke-width="1.3"/>
<circle cx="440.20" cy="384.00" r="3.0" stroke-width="1.3"/>
<circle cx="442.60" cy="387.80" r="3.0" stroke-width="1.3"/>
<circle cx="435.00" cy="391.10" r="3.0" stroke-width="1.3"/>
<circle cx="439.20" cy="390.10" r="3.0" stroke-width="1.3"/>
<circle cx="438.50" cy="380.50" r="3.0" stroke-width="1.3"/>
<circle cx="437.50" cy="387.00" r="3.0" stroke-width="1.3"/>
<line x1="430.80" y1="382.10" x2="446.20" y2="382.10" stroke-width="1.2"/>
<rect x="450.90" y="369.10" width="12.20" height="8.10" fill="#222" stroke="none"/>
<rect x="450.68" y="369.01" width="5.4" height="5.4" stroke-width="1.15"/>
<rect x="454.39" y="368.88" width="5.4" height="5.4" stroke-width="1.15"/>
<rect x="457.73" y="369.08" width="5.4" height="5.4" stroke-width="1.15"/>
<rect x="452.70" y="370.46" width="5.4" height="5.4" stroke-width="1.15"/>
<rect x="456.12" y="370.27" width="5.4" height="5.4" stroke-width="1.15"/>
<rect x="450.68" y="371.93" width="5.4" height="5.4" stroke-width="1.15"/>
<rect x="454.36" y="371.72" width="5.4" height="5.4" stroke-width="1.15"/>
<rect x="457.93" y="371.84" width="5.4" height="5.4" stroke-width="1.15"/>
<line x1="449.50" y1="377.80" x2="464.50" y2="377.80" stroke-width="1.3"/>
<rect x="453.80" y="379.40" width="5.0" height="5.0" stroke-width="1.15"/>
<rect x="453.80" y="384.10" width="5.0" height="5.0" stroke-width="1.15"/>
<line x1="456.30" y1="377.80" x2="456.30" y2="389.50" stroke-width="1.1"/>
<rect x="450.80" y="394.60" width="5.4" height="5.4" stroke-width="1.15"/>
<rect x="457.90" y="391.70" width="5.4" height="5.4" stroke-width="1.15"/>
<path d="M472.50 374.37L475.80 380.63L469.20 380.63Z" stroke-width="1.15" stroke-linejoin="miter"/>
<path d="M478.20 374.37L481.50 380.63L474.90 380.63Z" stroke-width="1.15" stroke-linejoin="miter"/>
<path d="M475.50 377.87L478.80 384.13L472.20 384.13Z" stroke-width="1.15" stroke-linejoin="miter"/>
<path d="M472.00 380.87L475.30 387.13L468.70 387.13Z" stroke-width="1.15" stroke-linejoin="miter"/>
<path d="M479.00 380.87L482.30 387.13L475.70 387.13Z" stroke-width="1.15" stroke-linejoin="miter"/>
<path d="M475.00 384.37L478.30 390.63L471.70 390.63Z" stroke-width="1.15" stroke-linejoin="miter"/>
<path d="M471.20 389.37L474.50 395.63L467.90 395.63Z" stroke-width="1.15" stroke-linejoin="miter"/>
<path d="M478.50 387.87L481.80 394.13L475.20 394.13Z" stroke-width="1.15" stroke-linejoin="miter"/>
<path d="M475.30 386.37L478.60 392.63L472.00 392.63Z" stroke-width="1.15" stroke-linejoin="miter"/>
<path d="M473.40 374.57L476.40 380.28L470.40 380.28Z" stroke-width="1.15" stroke-linejoin="miter"/>
<path d="M477.59 374.92L480.59 380.62L474.59 380.62Z" stroke-width="1.15" stroke-linejoin="miter"/>
<path d="M475.28 379.46L478.28 385.16L472.28 385.16Z" stroke-width="1.15" stroke-linejoin="miter"/>
<line x1="468.00" y1="382.80" x2="483.20" y2="382.80" stroke-width="1.2"/>
<ellipse cx="507.20" cy="354.20" rx="3.6" ry="3.2" fill="#1e1c1d" stroke="none"/>
<circle cx="503.00" cy="348.20" r="2.95" stroke-width="1.25"/>
<circle cx="507.00" cy="351.50" r="2.95" stroke-width="1.25"/>
<circle cx="509.70" cy="354.60" r="2.95" stroke-width="1.25"/>
<circle cx="505.50" cy="354.00" r="2.95" stroke-width="1.25"/>
<circle cx="502.80" cy="357.30" r="2.95" stroke-width="1.25"/>
<circle cx="508.00" cy="360.30" r="2.95" stroke-width="1.25"/>
<circle cx="504.50" cy="364.40" r="2.95" stroke-width="1.25"/>
<circle cx="508.30" cy="368.40" r="2.95" stroke-width="1.25"/>
<circle cx="505.00" cy="371.80" r="2.95" stroke-width="1.25"/>
<line x1="499.20" y1="357.90" x2="513.70" y2="357.90" stroke-width="1.2"/>
<line x1="506.20" y1="355.00" x2="506.20" y2="369.00" stroke-width="1.1"/>
<rect x="519.10" y="314.10" width="11.80" height="8.90" fill="#222" stroke="none"/>
<rect x="519.17" y="314.19" width="5.4" height="5.4" stroke-width="1.15"/>
<rect x="522.57" y="313.88" width="5.4" height="5.4" stroke-width="1.15"/>
<rect x="525.73" y="313.88" width="5.4" height="5.4" stroke-width="1.15"/>
<rect x="520.61" y="315.59" width="5.4" height="5.4" stroke-width="1.15"/>
<rect x="523.80" y="315.81" width="5.4" height="5.4" stroke-width="1.15"/>
<rect x="518.87" y="317.79" width="5.4" height="5.4" stroke-width="1.15"/>
<rect x="521.97" y="317.54" width="5.4" height="5.4" stroke-width="1.15"/>
<rect x="525.73" y="317.77" width="5.4" height="5.4" stroke-width="1.15"/>
<rect x="522.92" y="319.03" width="5.4" height="5.4" stroke-width="1.15"/>
<rect x="524.40" y="319.03" width="5.4" height="5.4" stroke-width="1.15"/>
<rect x="523.49" y="319.03" width="5.4" height="5.4" stroke-width="1.15"/>
<rect x="521.60" y="311.50" width="5.8" height="5.8" stroke-width="1.15"/>
<line x1="517.00" y1="317.90" x2="532.70" y2="317.90" stroke-width="1.3"/>
<path d="M540.00 352.96L543.20 359.04L536.80 359.04Z" stroke-width="1.15" stroke-linejoin="miter"/>
<path d="M545.00 351.96L548.20 358.04L541.80 358.04Z" stroke-width="1.15" stroke-linejoin="miter"/>
<path d="M543.00 356.96L546.20 363.04L539.80 363.04Z" stroke-width="1.15" stroke-linejoin="miter"/>
<path d="M538.50 359.96L541.70 366.04L535.30 366.04Z" stroke-width="1.15" stroke-linejoin="miter"/>
<path d="M546.00 359.96L549.20 366.04L542.80 366.04Z" stroke-width="1.15" stroke-linejoin="miter"/>
<path d="M539.50 365.96L542.70 372.04L536.30 372.04Z" stroke-width="1.15" stroke-linejoin="miter"/>
<path d="M545.00 364.46L548.20 370.54L541.80 370.54Z" stroke-width="1.15" stroke-linejoin="miter"/>
<path d="M542.50 367.96L545.70 374.04L539.30 374.04Z" stroke-width="1.15" stroke-linejoin="miter"/>
<path d="M540.08 352.87L543.08 358.57L537.08 358.57Z" stroke-width="1.15" stroke-linejoin="miter"/>
<path d="M543.24 352.57L546.24 358.28L540.24 358.28Z" stroke-width="1.15" stroke-linejoin="miter"/>
<path d="M545.92 352.67L548.92 358.37L542.92 358.37Z" stroke-width="1.15" stroke-linejoin="miter"/>
<path d="M541.22 355.28L544.22 360.98L538.22 360.98Z" stroke-width="1.15" stroke-linejoin="miter"/>
<path d="M544.29 354.82L547.29 360.52L541.29 360.52Z" stroke-width="1.15" stroke-linejoin="miter"/>
<path d="M540.08 357.40L543.08 363.10L537.08 363.10Z" stroke-width="1.15" stroke-linejoin="miter"/>
<path d="M542.74 357.47L545.74 363.17L539.74 363.17Z" stroke-width="1.15" stroke-linejoin="miter"/>
<path d="M545.92 357.35L548.92 363.05L542.92 363.05Z" stroke-width="1.15" stroke-linejoin="miter"/>
<path d="M541.74 359.72L544.74 365.43L538.74 365.43Z" stroke-width="1.15" stroke-linejoin="miter"/>
<path d="M544.69 359.50L547.69 365.20L541.69 365.20Z" stroke-width="1.15" stroke-linejoin="miter"/>
<line x1="535.60" y1="360.70" x2="550.90" y2="360.70" stroke-width="1.2"/>
<circle cx="573.80" cy="352.60" r="3.0" stroke-width="1.35"/>
<circle cx="570.20" cy="357.00" r="3.0" stroke-width="1.35"/>
<circle cx="577.60" cy="356.10" r="3.0" stroke-width="1.35"/>
<circle cx="570.40" cy="363.70" r="3.0" stroke-width="1.35"/>
<circle cx="577.10" cy="363.70" r="3.0" stroke-width="1.35"/>
<circle cx="577.10" cy="371.30" r="3.0" stroke-width="1.35"/>
<circle cx="570.40" cy="376.50" r="3.0" stroke-width="1.35"/>
<circle cx="577.10" cy="384.60" r="3.0" stroke-width="1.35"/>
<circle cx="570.40" cy="388.30" r="3.0" stroke-width="1.35"/>
<line x1="566.20" y1="365.60" x2="581.30" y2="365.60" stroke-width="1.2"/>
<line x1="573.80" y1="357.00" x2="573.80" y2="380.30" stroke-width="1.1"/>
<line x1="570.20" y1="380.30" x2="577.40" y2="380.30" stroke-width="1.1"/>
<rect x="586.40" y="338.90" width="12.20" height="10.10" fill="#222" stroke="none"/>
<rect x="586.35" y="338.68" width="5.4" height="5.4" stroke-width="1.15"/>
<rect x="589.59" y="338.75" width="5.4" height="5.4" stroke-width="1.15"/>
<rect x="593.11" y="338.87" width="5.4" height="5.4" stroke-width="1.15"/>
<rect x="588.17" y="340.93" width="5.4" height="5.4" stroke-width="1.15"/>
<rect x="591.74" y="341.25" width="5.4" height="5.4" stroke-width="1.15"/>
<rect x="586.27" y="343.83" width="5.4" height="5.4" stroke-width="1.15"/>
<rect x="590.14" y="343.76" width="5.4" height="5.4" stroke-width="1.15"/>
<rect x="593.42" y="343.83" width="5.4" height="5.4" stroke-width="1.15"/>
<rect x="586.10" y="347.20" width="5.6" height="5.6" stroke-width="1.15"/>
<rect x="592.00" y="346.50" width="5.0" height="5.0" stroke-width="1.15"/>
<rect x="590.98" y="345.22" width="5.4" height="5.4" stroke-width="1.15"/>
<rect x="593.42" y="345.07" width="5.4" height="5.4" stroke-width="1.15"/>
<rect x="591.85" y="346.03" width="5.4" height="5.4" stroke-width="1.15"/>
<line x1="585.00" y1="344.20" x2="600.00" y2="344.20" stroke-width="1.3"/>
<path d="M604.6 357.4L608 348.2L610.7 346.2L613.5 348.2L617.2 357.4Z" fill="#1e1c1d" stroke="none"/>
<path d="M608.20 350.56L611.30 356.44L605.10 356.44Z" stroke-width="1.2" stroke-linejoin="miter"/>
<path d="M613.20 350.56L616.30 356.44L610.10 356.44Z" stroke-width="1.2" stroke-linejoin="miter"/>
<path d="M610.70 347.56L613.80 353.44L607.60 353.44Z" stroke-width="1.2" stroke-linejoin="miter"/>
<path d="M607.00 351.66L610.10 357.55L603.90 357.55Z" stroke-width="1.2" stroke-linejoin="miter"/>
<path d="M614.40 351.66L617.50 357.55L611.30 357.55Z" stroke-width="1.2" stroke-linejoin="miter"/>
<line x1="603.00" y1="351.30" x2="619.00" y2="351.30" stroke-width="1.3"/>
<text transform="translate(26.6 496.8) scale(0.95 1.0)" font-size="26.4" font-weight="bold" text-anchor="start" fill="#1e1c1d" stroke="#1e1c1d" stroke-width="0.9">D</text>
<line x1="90.10" y1="535.82" x2="90.10" y2="687.00" stroke-width="2.0"/>
<line x1="85.90" y1="536.82" x2="90.10" y2="536.82" stroke-width="1.9"/>
<text transform="translate(84.1 540.8314999999999)" font-size="11.3" font-weight="bold" text-anchor="end" fill="#1e1c1d" stroke="#1e1c1d" stroke-width="0.35">10000</text>
<rect x="52.18" y="538.76" width="2.98" height="2.87" fill="#fff" stroke="none"/>
<rect x="57.01" y="538.76" width="2.00" height="2.87" fill="#fff" stroke="none"/>
<line x1="85.90" y1="566.74" x2="90.10" y2="566.74" stroke-width="1.9"/>
<text transform="translate(84.1 570.7515)" font-size="11.3" font-weight="bold" text-anchor="end" fill="#1e1c1d" stroke="#1e1c1d" stroke-width="0.35">1000</text>
<rect x="58.46" y="568.68" width="2.98" height="2.87" fill="#fff" stroke="none"/>
<rect x="63.29" y="568.68" width="2.00" height="2.87" fill="#fff" stroke="none"/>
<line x1="85.90" y1="596.66" x2="90.10" y2="596.66" stroke-width="1.9"/>
<text transform="translate(84.1 600.6714999999999)" font-size="11.3" font-weight="bold" text-anchor="end" fill="#1e1c1d" stroke="#1e1c1d" stroke-width="0.35">100</text>
<rect x="64.75" y="598.60" width="2.98" height="2.87" fill="#fff" stroke="none"/>
<rect x="69.58" y="598.60" width="2.00" height="2.87" fill="#fff" stroke="none"/>
<line x1="85.90" y1="626.58" x2="90.10" y2="626.58" stroke-width="1.9"/>
<text transform="translate(84.1 630.5915)" font-size="11.3" font-weight="bold" text-anchor="end" fill="#1e1c1d" stroke="#1e1c1d" stroke-width="0.35">10</text>
<rect x="71.03" y="628.52" width="2.98" height="2.87" fill="#fff" stroke="none"/>
<rect x="75.86" y="628.52" width="2.00" height="2.87" fill="#fff" stroke="none"/>
<line x1="85.90" y1="656.50" x2="90.10" y2="656.50" stroke-width="1.9"/>
<text transform="translate(84.1 660.5115)" font-size="11.3" font-weight="bold" text-anchor="end" fill="#1e1c1d" stroke="#1e1c1d" stroke-width="0.35">1</text>
<rect x="77.32" y="658.44" width="2.98" height="2.87" fill="#fff" stroke="none"/>
<rect x="82.15" y="658.44" width="2.00" height="2.87" fill="#fff" stroke="none"/>
<line x1="85.90" y1="686.42" x2="90.10" y2="686.42" stroke-width="1.9"/>
<text transform="translate(84.1 690.4314999999999)" font-size="11.3" font-weight="bold" text-anchor="end" fill="#1e1c1d" stroke="#1e1c1d" stroke-width="0.35">0.1</text>
<rect x="77.32" y="688.36" width="2.98" height="2.87" fill="#fff" stroke="none"/>
<rect x="82.15" y="688.36" width="2.00" height="2.87" fill="#fff" stroke="none"/>
<line x1="89.10" y1="686.00" x2="249.50" y2="686.00" stroke-width="2.0"/>
<line x1="114.00" y1="686.00" x2="114.00" y2="690.50" stroke-width="1.9"/>
<line x1="169.25" y1="686.00" x2="169.25" y2="690.50" stroke-width="1.9"/>
<line x1="225.00" y1="686.00" x2="225.00" y2="690.50" stroke-width="1.9"/>
<text transform="translate(114 703.2) scale(1.0 1.03)" font-size="11.3" font-weight="bold" text-anchor="middle" fill="#1e1c1d" stroke="#1e1c1d" stroke-width="0.35">Control</text>
<text transform="translate(169.25 703.2) scale(1.0 1.03)" font-size="11.3" font-weight="bold" text-anchor="middle" fill="#1e1c1d" stroke="#1e1c1d" stroke-width="0.35">3 hr</text>
<text transform="translate(225 703.2) scale(1.0 1.03)" font-size="11.3" font-weight="bold" text-anchor="middle" fill="#1e1c1d" stroke="#1e1c1d" stroke-width="0.35">5 hrs</text>
<text transform="translate(13 611.7) rotate(-90)" font-size="14" text-anchor="middle" fill="#1e1c1d" stroke="#1e1c1d" stroke-width="0.12">Relative fold change</text>
<text transform="translate(29.5 609.8) rotate(-90)" font-size="14" text-anchor="middle" fill="#1e1c1d" stroke="#1e1c1d" stroke-width="0.12">in ipah mRNA</text>
<circle cx="198.75" cy="634.30" r="3.0" stroke-width="1.6"/>
<rect x="196.20" y="652.45" width="5.1" height="5.1" stroke-width="1.6"/>
<text transform="translate(216.0 638.9) scale(1.0 1.06)" font-size="12.0" text-anchor="start" fill="#1e1c1d" stroke="#1e1c1d" stroke-width="0.25">Huh-7</text>
<text transform="translate(216.0 659.0) scale(1.0 1.06)" font-size="12.0" text-anchor="start" fill="#1e1c1d" stroke="#1e1c1d" stroke-width="0.25">HeLa</text>
<circle cx="99.90" cy="648.40" r="3.0" stroke-width="1.15"/>
<circle cx="107.80" cy="649.30" r="3.0" stroke-width="1.15"/>
<circle cx="99.90" cy="656.30" r="3.0" stroke-width="1.15"/>
<circle cx="107.80" cy="655.40" r="3.0" stroke-width="1.15"/>
<circle cx="99.90" cy="662.40" r="3.0" stroke-width="1.15"/>
<circle cx="106.00" cy="659.80" r="3.0" stroke-width="1.15"/>
<circle cx="103.80" cy="653.00" r="3.0" stroke-width="1.15"/>
<circle cx="104.00" cy="657.50" r="3.0" stroke-width="1.15"/>
<line x1="95.50" y1="656.30" x2="112.50" y2="656.30" stroke-width="1.2"/>
<path d="M118 651L127 651.2L132.3 654L132.7 660.5L126 661.1L117 660.6L116.5 653Z" fill="#1e1c1d" stroke="none"/>
<circle cx="155.40" cy="582.50" r="2.9" stroke-width="1.15"/>
<circle cx="159.60" cy="582.50" r="2.9" stroke-width="1.15"/>
<circle cx="163.70" cy="582.50" r="2.9" stroke-width="1.15"/>
<circle cx="163.10" cy="587.60" r="2.9" stroke-width="1.15"/>
<circle cx="155.00" cy="592.20" r="2.9" stroke-width="1.15"/>
<circle cx="159.60" cy="593.70" r="2.9" stroke-width="1.15"/>
<circle cx="163.40" cy="594.50" r="2.9" stroke-width="1.15"/>
<circle cx="155.00" cy="598.70" r="2.9" stroke-width="1.15"/>
<circle cx="160.30" cy="596.70" r="2.9" stroke-width="1.15"/>
<line x1="151.10" y1="592.90" x2="168.00" y2="592.90" stroke-width="1.2"/>
<path d="M172.5 594L183 593.7L187.6 595.5L188.2 603L183 604.4L173.5 604.2L171.4 599Z" fill="#1e1c1d" stroke="none"/>
<circle cx="212.40" cy="559.20" r="2.9" stroke-width="1.15"/>
<circle cx="216.30" cy="559.20" r="2.9" stroke-width="1.15"/>
<circle cx="209.50" cy="562.00" r="2.9" stroke-width="1.15"/>
<circle cx="219.00" cy="561.50" r="2.9" stroke-width="1.15"/>
<circle cx="210.90" cy="570.00" r="2.9" stroke-width="1.15"/>
<circle cx="216.30" cy="569.20" r="2.9" stroke-width="1.15"/>
<circle cx="219.30" cy="566.90" r="2.9" stroke-width="1.15"/>
<circle cx="213.50" cy="565.00" r="2.9" stroke-width="1.15"/>
<circle cx="214.00" cy="561.00" r="2.9" stroke-width="1.15"/>
<circle cx="209.50" cy="566.00" r="2.9" stroke-width="1.15"/>
<line x1="206.00" y1="563.00" x2="223.00" y2="563.00" stroke-width="1.2"/>
<path d="M229 560.3L237 560L243.3 562L243.4 569L234 569.2L228.3 568.5L227.8 564Z" fill="#1e1c1d" stroke="none"/>
</g>
</svg>
</body></html>
